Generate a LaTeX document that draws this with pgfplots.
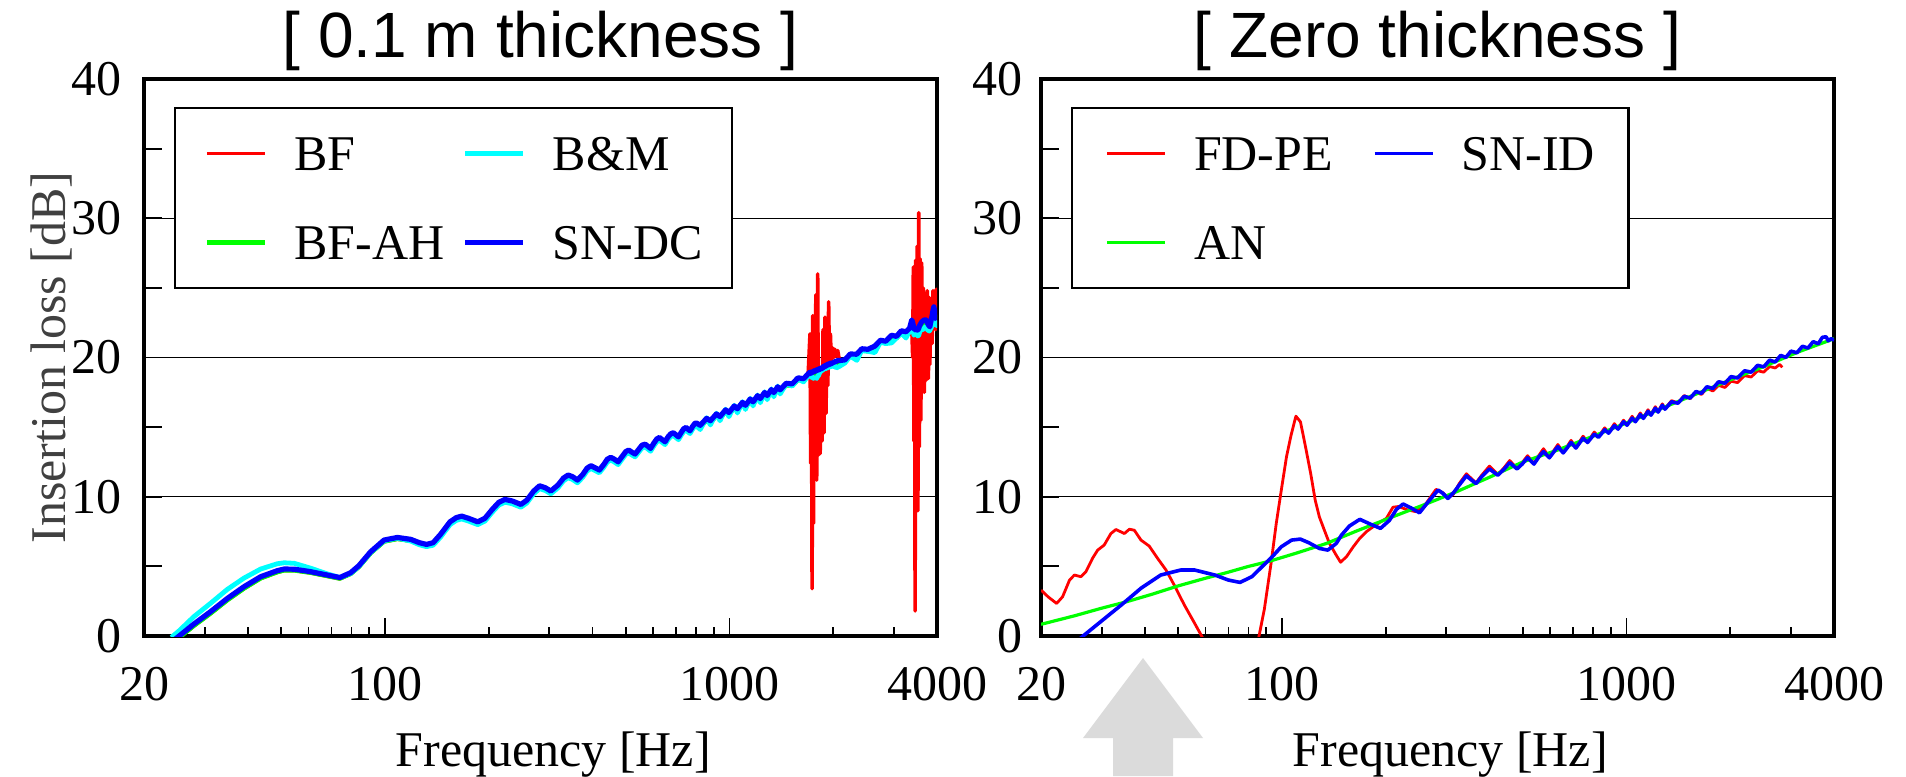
\documentclass[border=0pt]{standalone}
\usepackage{fontspec}
\setmainfont{Liberation Serif}
\setsansfont{Liberation Sans}
\usepackage{pgfplots}
\usepackage{pgfplotstable}
\pgfplotsset{compat=1.18}
\definecolor{aqua}{RGB}{0,255,255}
\definecolor{lime}{RGB}{0,255,0}

% 0.1 m thickness: BF, B&M, BF-AH, SN-DC
\pgfplotstableread{
f bf bm bfah sndc
24 -0.58 -0.10 -0.55 -0.43
25.3 -0.13 0.38 -0.10 0.00
27.9 0.72 1.39 0.75 0.86
31.2 1.61 2.35 1.64 1.75
34.9 2.56 3.35 2.59 2.70
39 3.40 4.16 3.43 3.54
43.6 4.13 4.81 4.16 4.26
48.7 4.57 5.19 4.60 4.69
51 4.70 5.26 4.73 4.81
54.6 4.70 5.22 4.73 4.80
60.9 4.53 4.87 4.56 4.62
68.1 4.29 4.46 4.32 4.38
74 4.11 4.20 4.14 4.20
79.6 4.45 4.50 4.48 4.55
84 4.94 5.00 4.97 5.05
90.9 5.94 6.00 5.97 6.05
99.4 6.77 6.84 6.80 6.89
108.7 6.96 7.03 6.99 7.08
118.9 6.82 6.82 6.85 6.94
126 6.57 6.55 6.60 6.70
132 6.45 6.42 6.48 6.58
138 6.57 6.52 6.60 6.70
145 7.16 7.10 7.19 7.30
154.5 8.06 8.00 8.09 8.20
161 8.36 8.30 8.39 8.50
167 8.47 8.41 8.50 8.61
175 8.31 8.25 8.34 8.45
186 8.06 8.00 8.09 8.20
195 8.31 8.25 8.34 8.45
205 8.95 8.90 8.98 9.10
214 9.45 9.40 9.48 9.60
223 9.66 9.61 9.69 9.81
234 9.55 9.50 9.58 9.70
248 9.30 9.25 9.33 9.45
258 9.60 9.55 9.63 9.75
270 10.25 10.20 10.28 10.40
281 10.64 10.59 10.67 10.79
292 10.50 10.45 10.53 10.65
303 10.26 10.21 10.29 10.41
318 10.70 10.65 10.73 10.85
330 11.20 11.15 11.23 11.35
340 11.41 11.36 11.44 11.56
350 11.30 11.25 11.33 11.45
362 11.05 11.00 11.08 11.20
375 11.45 11.40 11.48 11.60
386 11.90 11.85 11.93 12.05
396 12.08 12.03 12.11 12.23
406 11.95 11.90 11.98 12.10
419 11.77 11.72 11.80 11.92
431 12.15 12.10 12.18 12.30
442 12.55 12.50 12.58 12.70
452 12.68 12.63 12.71 12.83
463 12.55 12.50 12.58 12.70
475 12.36 12.31 12.39 12.51
488 12.75 12.70 12.78 12.90
500 13.10 13.05 13.13 13.25
510 13.20 13.15 13.23 13.35
521 13.05 13.00 13.08 13.20
532 12.92 12.87 12.95 13.07
545 13.25 13.20 13.28 13.40
557 13.55 13.50 13.58 13.70
569 13.63 13.58 13.66 13.78
580 13.47 13.42 13.50 13.62
590 13.32 13.27 13.35 13.47
603 13.70 13.65 13.73 13.85
615 14.00 13.95 14.03 14.15
626 14.11 14.06 14.14 14.26
638 13.95 13.90 13.98 14.10
650 13.80 13.75 13.83 13.95
663 14.15 14.10 14.18 14.30
675 14.37 14.32 14.40 14.52
687 14.45 14.40 14.48 14.60
699 14.30 14.25 14.33 14.45
711 14.15 14.10 14.18 14.30
724 14.47 14.42 14.50 14.62
736 14.73 14.68 14.76 14.88
748 14.83 14.78 14.86 14.98
758 14.70 14.65 14.73 14.85
768 14.59 14.54 14.62 14.74
781 14.90 14.85 14.93 15.05
792 15.10 15.05 15.13 15.25
800 15.16 15.11 15.19 15.31
822 14.98 14.83 15.01 15.13
858 15.48 15.68 15.51 15.63
880 15.31 15.16 15.34 15.46
916 15.80 16.00 15.83 15.95
938 15.61 15.46 15.64 15.76
974 16.09 16.29 16.12 16.24
996 15.90 15.75 15.93 16.05
1032 16.37 16.57 16.40 16.52
1054 16.17 16.02 16.20 16.32
1090 16.63 16.83 16.66 16.78
1112 16.42 16.27 16.45 16.57
1148 16.87 17.07 16.90 17.02
1170 16.67 16.52 16.70 16.82
1206 17.11 17.31 17.14 17.26
1228 16.90 16.75 16.93 17.05
1264 17.34 17.54 17.37 17.49
1286 17.12 16.97 17.15 17.27
1322 17.55 17.75 17.58 17.70
1344 17.33 17.18 17.36 17.48
1380 17.75 17.95 17.78 17.90
1402 17.53 17.38 17.56 17.68
1460 18.00 18.10 18.03 18.15
1520 17.96 17.95 17.99 18.11
1580 18.39 18.45 18.42 18.54
1640 18.33 18.25 18.36 18.48
1690 18.67 18.70 18.70 18.82
1712 21.70 18.80 18.83 18.95
1720 12.40 18.60 18.73 18.85
1728 21.00 18.65 18.83 18.95
1736 3.40 18.55 18.78 18.90
1744 23.00 18.60 18.88 19.00
1752 8.10 18.50 18.83 18.95
1760 22.00 18.55 18.93 19.05
1770 11.50 18.50 18.88 19.00
1780 24.50 18.55 18.98 19.10
1790 11.20 18.50 18.93 19.05
1802 26.00 18.65 19.03 19.15
1812 13.00 18.70 18.98 19.10
1822 18.60 18.85 19.08 19.20
1832 13.10 18.95 19.03 19.15
1845 17.50 19.10 19.13 19.25
1855 14.00 19.05 19.08 19.20
1868 22.00 19.20 19.23 19.35
1880 14.60 19.15 19.18 19.30
1892 22.90 19.30 19.30 19.42
1905 16.00 19.20 19.26 19.38
1918 21.50 19.35 19.38 19.50
1929 18.00 19.25 19.33 19.45
1939 24.00 19.40 19.43 19.55
1950 19.30 19.30 19.38 19.50
1962 21.70 19.45 19.48 19.60
1975 19.60 19.35 19.43 19.55
1990 20.70 19.45 19.53 19.65
2005 20.00 19.35 19.50 19.62
2020 20.60 19.40 19.60 19.72
2040 20.10 19.25 19.58 19.70
2060 20.50 19.30 19.68 19.80
2080 19.90 19.35 19.66 19.78
2160 19.68 19.60 19.71 19.83
2240 20.10 20.10 20.13 20.25
2340 20.09 19.80 20.12 20.24
2420 20.48 20.50 20.51 20.63
2520 20.44 20.45 20.47 20.59
2640 20.67 20.35 20.70 20.82
2740 21.09 21.10 21.12 21.24
2840 21.02 21.00 21.05 21.17
2950 21.45 21.05 21.48 21.60
3050 21.37 21.40 21.40 21.52
3150 21.77 21.75 21.80 21.92
3250 21.70 21.40 21.73 21.85
3330 21.95 21.90 21.98 22.10
3378 22.30 22.20 22.40 22.70
3400 20.00 22.00 22.30 22.50
3415 26.50 21.80 22.15 22.30
3430 14.00 21.60 22.05 22.10
3445 24.00 21.70 22.00 22.00
3455 1.80 21.80 22.00 22.00
3470 27.00 21.85 22.05 22.05
3490 10.30 21.70 22.05 22.00
3505 28.00 21.60 22.00 21.97
3520 9.00 21.55 21.95 21.97
3541 30.40 21.60 22.05 22.10
3555 13.60 21.75 22.15 22.25
3570 27.10 21.90 22.25 22.35
3590 15.50 22.00 22.30 22.45
3610 26.80 22.05 22.35 22.55
3630 18.60 22.00 22.40 22.60
3650 25.00 22.05 22.45 22.65
3675 17.50 22.10 22.50 22.70
3700 24.60 22.20 22.50 22.70
3728 18.40 22.15 22.50 22.70
3750 24.80 22.00 22.45 22.50
3775 18.50 21.95 22.40 22.35
3800 24.30 21.90 22.40 22.25
3812 19.50 21.95 22.45 22.20
3840 23.60 22.10 22.60 22.60
3870 21.00 22.30 22.75 23.00
3895 24.80 22.60 22.90 23.40
3916 22.50 22.80 23.00 23.64
3940 23.80 22.60 23.00 23.30
3960 22.00 22.40 22.95 23.00
3980 24.90 22.30 22.90 22.80
4000 23.50 22.30 22.90 22.70
}\thicktab

% zero thickness: FD-PE
\pgfplotstableread{
f v
20 3.30
21 2.80
22.2 2.34
23.1 2.82
24.2 4.02
25 4.38
26.1 4.26
27 4.62
28.2 5.57
29.2 6.17
30.5 6.53
31.9 7.36
33 7.65
34.9 7.36
36.1 7.67
37.3 7.60
39 6.89
41.2 6.46
43.6 5.57
46.1 4.74
48.7 3.66
52.1 2.23
55.8 0.92
60 -0.50
72 -10
85.5 -0.20
88.9 1.90
93 5.22
96.3 8.09
99.6 10.48
103.1 12.87
106.3 14.42
109.8 15.79
113.2 15.38
117.1 13.58
121.2 11.67
124.9 9.76
128.4 8.56
132.8 7.60
137.4 6.65
143.8 5.80
148 5.30
154 5.70
161 6.40
168 7.00
176 7.50
184 7.85
192 8.15
201 8.45
210 9.25
218 9.30
232 9.05
245 8.93
262 9.52
280 10.53
293 10.30
303 9.92
315 10.20
327 10.95
343 11.65
355 11.30
366 11.00
380 11.55
400 12.20
423 11.60
440 12.05
458 12.60
481 12.05
498 12.45
516 12.95
539 12.40
556 12.95
574 13.45
597 12.85
614 13.30
632 13.75
655 13.20
672 13.60
690 14.05
713 13.55
730 13.95
748 14.35
771 13.95
806 14.65
829 14.32
864 14.95
887 14.62
922 15.25
945 14.90
980 15.50
1003 15.18
1038 15.78
1061 15.43
1096 16.02
1119 15.67
1154 16.25
1177 15.90
1212 16.47
1235 16.12
1270 16.67
1293 16.33
1350 16.90
1410 16.74
1470 17.27
1530 17.05
1590 17.50
1650 17.35
1710 17.78
1780 17.60
1850 18.00
1930 17.85
2010 18.30
2100 18.20
2200 18.70
2300 18.60
2400 19.05
2500 18.95
2600 19.35
2700 19.25
2780 19.50
2830 19.30
}\fdpe

% zero thickness: SN-ID
\pgfplotstableread{
f v
25.5 -0.35
26.7 0.07
29.8 1.03
34.2 2.23
39 3.43
44.5 4.38
50.9 4.74
55.8 4.74
63.9 4.38
69.9 4.02
75.6 3.85
81.8 4.26
87.6 4.98
93.7 5.69
99.6 6.41
106.7 6.89
113.1 6.96
119.7 6.70
128.4 6.29
135.9 6.17
143.8 6.65
148.9 7.25
157 7.90
168.3 8.38
180 8.05
193.2 7.73
205 8.30
215 9.10
224.7 9.48
237 9.20
250.7 8.85
265 9.60
283.8 10.48
293 10.25
303 9.88
315 10.30
327 10.84
343 11.50
355 11.20
366 10.95
380 11.45
400 12.00
423 11.55
440 11.95
458 12.45
481 12.00
498 12.35
516 12.80
539 12.35
556 12.85
574 13.25
597 12.80
614 13.20
632 13.60
655 13.15
672 13.50
690 13.90
713 13.50
730 13.85
748 14.20
771 13.90
806 14.50
829 14.27
864 14.81
887 14.57
922 15.11
945 14.86
980 15.39
1003 15.14
1038 15.65
1061 15.39
1096 15.90
1119 15.63
1154 16.13
1177 15.86
1212 16.36
1235 16.08
1270 16.57
1293 16.29
1350 16.82
1410 16.72
1470 17.21
1530 17.09
1590 17.56
1650 17.43
1710 17.90
1780 17.78
1850 18.26
1930 18.15
2010 18.63
2100 18.53
2200 19.05
2300 18.95
2400 19.44
2500 19.33
2600 19.81
2700 19.68
2800 20.15
2900 20.01
3000 20.46
3120 20.34
3240 20.81
3360 20.68
3480 21.14
3600 20.99
3700 21.45
3793 21.49
3850 21.20
3920 21.35
4000 21.25
}\snid

% zero thickness: AN
\pgfplotstableread{
f v
20 0.84
25 1.45
30 2.00
35.4 2.46
42 3.00
50 3.60
60 4.15
69.1 4.55
80 5.00
92.3 5.38
110 5.95
134.7 6.65
165 7.55
210 8.57
260 9.45
321 10.36
400 11.40
500 12.50
630 13.35
800 14.35
1000 15.30
1250 16.30
1600 17.40
2000 18.40
2500 19.35
3150 20.40
4000 21.35
}\an

\begin{document}
\begin{tikzpicture}
\useasboundingbox (0,0) rectangle (476.5pt,194pt);
\fill[gray!28] (278.25pt,0pt) -- (278.25pt,9.5pt) -- (270.75pt,9.5pt) -- (285.75pt,29.5pt)
  -- (300.75pt,9.5pt) -- (293.25pt,9.5pt) -- (293.25pt,0pt) -- cycle;

\begin{axis}[at={(36pt,35pt)}, anchor=south west,
  scale only axis, width=198.25pt, height=139.25pt,
  xmode=log, xmin=20, xmax=4000, ymin=0, ymax=40,
  xtick={20,100,1000,4000}, xticklabels={20,100,1000,4000},
  minor xtick={30,40,50,60,70,80,90,200,300,400,500,600,700,800,900,2000,3000},
  ytick={0,10,20,30,40},
  extra y ticks={5,15,25,35}, extra y tick labels={},
  extra y tick style={grid=none},
  ymajorgrids, major grid style={black, line width=0.35pt},
  tick pos=left, tick align=inside,
  major tick length=4.4pt, minor tick length=2.3pt,
  tick style={black, line width=0.45pt},
  axis line style={line width=0.85pt},
  /pgf/number format/assume math mode=true,
  tick label style={font=\fontsize{12.5}{15}\selectfont},
  xticklabel style={yshift=-4.3pt},
  yticklabel style={xshift=-2.1pt},
  label style={font=\fontsize{12.5}{15}\selectfont},
  xlabel={Frequency [Hz]},
  xlabel style={at={(axis description cs:0.516,-0.235)}, anchor=base},
  ylabel={Insertion loss [dB]},
  ylabel style={at={(axis description cs:-0.0996,0.5)}, anchor=base, text=black!75},
  title={\relax[ 0.1 m thickness ]},
  every axis title shift=0pt,
  title style={font=\sffamily\fontsize{16}{18}\selectfont, at={(0.5,1)}, anchor=base, yshift=5.5pt},
  legend columns=2,
  legend image code/.code={\draw[#1] (0pt,0pt) -- (14.5pt,0pt);},
  legend style={at={(0,1)}, anchor=north west, xshift=7.5pt, yshift=-7pt,
    draw=black, line width=0.6pt, fill=white, inner xsep=7.3pt, inner ysep=7.2pt,
    row sep=13.95pt, font=\fontsize{12.5}{15}\selectfont,
    nodes={inner sep=0pt, anchor=west, text height=8.3pt, text depth=0pt},
    /tikz/every odd column/.append style={column sep=6.75pt},
    /tikz/every even column/.append style={column sep=4.6pt}},
]
\addlegendimage{red, line width=0.9pt}\addlegendentry{BF}
\addlegendimage{aqua, line width=1.2pt}\addlegendentry{B\&M}
\addlegendimage{lime, line width=1.2pt}\addlegendentry{BF-AH}
\addlegendimage{blue, line width=1.3pt}\addlegendentry{SN-DC}
\addplot[red, line width=0.9pt, line join=round, forget plot] table[x=f, y=bf] {\thicktab};
\addplot[lime, line width=1.2pt, line join=round, forget plot] table[x=f, y=bfah] {\thicktab};
\addplot[aqua, line width=1.2pt, line join=round, forget plot] table[x=f, y=bm] {\thicktab};
\addplot[blue, line width=1.3pt, line join=round, forget plot] table[x=f, y=sndc] {\thicktab};
\end{axis}

\begin{axis}[at={(260.25pt,35pt)}, anchor=south west,
  scale only axis, width=198.25pt, height=139.25pt,
  xmode=log, xmin=20, xmax=4000, ymin=0, ymax=40,
  xtick={20,100,1000,4000}, xticklabels={20,100,1000,4000},
  minor xtick={30,40,50,60,70,80,90,200,300,400,500,600,700,800,900,2000,3000},
  ytick={0,10,20,30,40},
  extra y ticks={5,15,25,35}, extra y tick labels={},
  extra y tick style={grid=none},
  ymajorgrids, major grid style={black, line width=0.35pt},
  tick pos=left, tick align=inside,
  major tick length=4.4pt, minor tick length=2.3pt,
  tick style={black, line width=0.45pt},
  axis line style={line width=0.85pt},
  /pgf/number format/assume math mode=true,
  tick label style={font=\fontsize{12.5}{15}\selectfont},
  xticklabel style={yshift=-4.3pt},
  yticklabel style={xshift=-1.1pt},
  label style={font=\fontsize{12.5}{15}\selectfont},
  xlabel={Frequency [Hz]},
  xlabel style={at={(axis description cs:0.516,-0.235)}, anchor=base},
  title={\relax[ Zero thickness ]},
  every axis title shift=0pt,
  title style={font=\sffamily\fontsize{16}{18}\selectfont, at={(0.5,1)}, anchor=base, yshift=5.5pt},
  legend columns=2,
  legend image code/.code={\draw[#1] (0pt,0pt) -- (14.5pt,0pt);},
  legend style={at={(0,1)}, anchor=north west, xshift=7.5pt, yshift=-7pt,
    draw=black, line width=0.6pt, fill=white, inner xsep=8.4pt, inner ysep=7.2pt,
    row sep=13.95pt, font=\fontsize{12.5}{15}\selectfont,
    nodes={inner sep=0pt, anchor=west, text height=8.3pt, text depth=0pt},
    /tikz/every odd column/.append style={column sep=6.75pt},
    /tikz/every even column/.append style={column sep=10pt}},
]
\addlegendimage{red, line width=0.7pt}\addlegendentry{FD-PE}
\addlegendimage{blue, line width=0.9pt}\addlegendentry{SN-ID}
\addlegendimage{lime, line width=0.8pt}\addlegendentry{AN}
\addplot[red, line width=0.7pt, line join=round, forget plot] table[x=f, y=v] {\fdpe};
\addplot[lime, line width=0.8pt, line join=round, forget plot] table[x=f, y=v] {\an};
\addplot[blue, line width=0.9pt, line join=round, forget plot] table[x=f, y=v] {\snid};
\end{axis}
\end{tikzpicture}
\end{document}
